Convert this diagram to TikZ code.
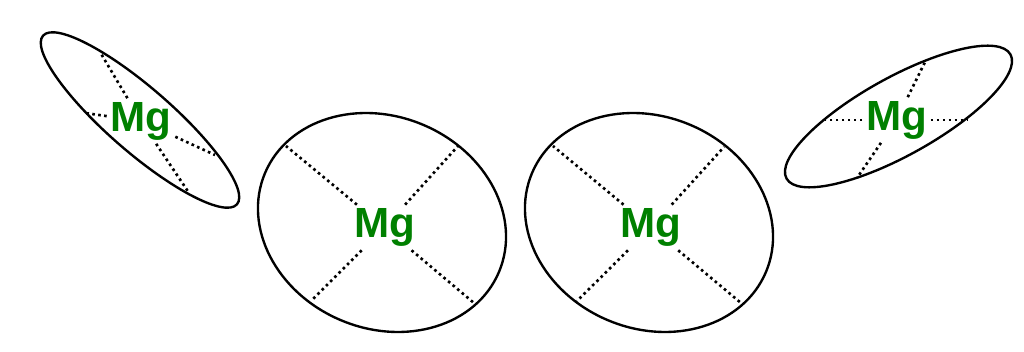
\documentclass[tikz,border=0pt]{standalone}
\usepackage{fontspec}
\setmainfont{Liberation Sans}
\usepackage{tikz}
\usepackage{xcolor}
\definecolor{mggreen}{RGB}{0,128,0}

\begin{document}
\begin{tikzpicture}[
  shell/.style={line width=1.35pt},
  bond/.style={line width=1.5pt, dash pattern=on 1.5pt off 1.9pt},
  mg/.style={text=mggreen, font=\fontsize{24}{27}\selectfont\bfseries, inner sep=2pt}
]
  \useasboundingbox (0,0) rectangle (20.48,7.04);
  % Flattened ion, left
  \draw[shell] (2.80,4.64) circle [x radius=2.57, y radius=0.64, rotate=-41];
  \node[mg] (mg1) at (2.82,4.62) {Mg};
  \coordinate (mg1a) at (2.00,6.00);
  \coordinate (mg1b) at (1.70,4.78);
  \coordinate (mg1c) at (4.30,3.94);
  \coordinate (mg1d) at (3.78,3.18);
  \draw[bond] (mg1) -- (mg1a);
  \draw[bond] (mg1) -- (mg1b);
  \draw[bond] (mg1) -- (mg1c);
  \draw[bond] (mg1) -- (mg1d);
  % Two round ions in the middle
  \draw[shell] (7.64,2.59) circle [x radius=2.54, y radius=2.12, rotate=-23];
  \node[mg] (mg2) at (7.69,2.49) {Mg};
  \coordinate (mg2a) at (5.72,4.12);
  \coordinate (mg2b) at (9.16,4.12);
  \coordinate (mg2c) at (6.22,1.02);
  \coordinate (mg2d) at (9.48,0.98);
  \draw[bond] (mg2) -- (mg2a);
  \draw[bond] (mg2) -- (mg2b);
  \draw[bond] (mg2) -- (mg2c);
  \draw[bond] (mg2) -- (mg2d);
  \draw[shell] (12.98,2.59) circle [x radius=2.54, y radius=2.12, rotate=-23];
  \node[mg] (mg3) at (13.02,2.49) {Mg};
  \coordinate (mg3a) at (11.06,4.12);
  \coordinate (mg3b) at (14.48,4.10);
  \coordinate (mg3c) at (11.54,1.02);
  \coordinate (mg3d) at (14.82,0.98);
  \draw[bond] (mg3) -- (mg3a);
  \draw[bond] (mg3) -- (mg3b);
  \draw[bond] (mg3) -- (mg3c);
  \draw[bond] (mg3) -- (mg3d);
  % Flattened ion, right
  \draw[shell] (17.97,4.71) circle [x radius=2.56, y radius=0.78, rotate=29];
  \node[mg] (mg4) at (17.93,4.64) {Mg};
  \coordinate (mg4a) at (16.50,4.64);
  \coordinate (mg4b) at (19.34,4.64);
  \coordinate (mg4c) at (18.52,5.84);
  \coordinate (mg4d) at (17.14,3.48);
  \draw[bond] (mg4) -- (mg4a);
  \draw[bond] (mg4) -- (mg4b);
  \draw[bond] (mg4) -- (mg4c);
  \draw[bond] (mg4) -- (mg4d);
\end{tikzpicture}
\end{document}
